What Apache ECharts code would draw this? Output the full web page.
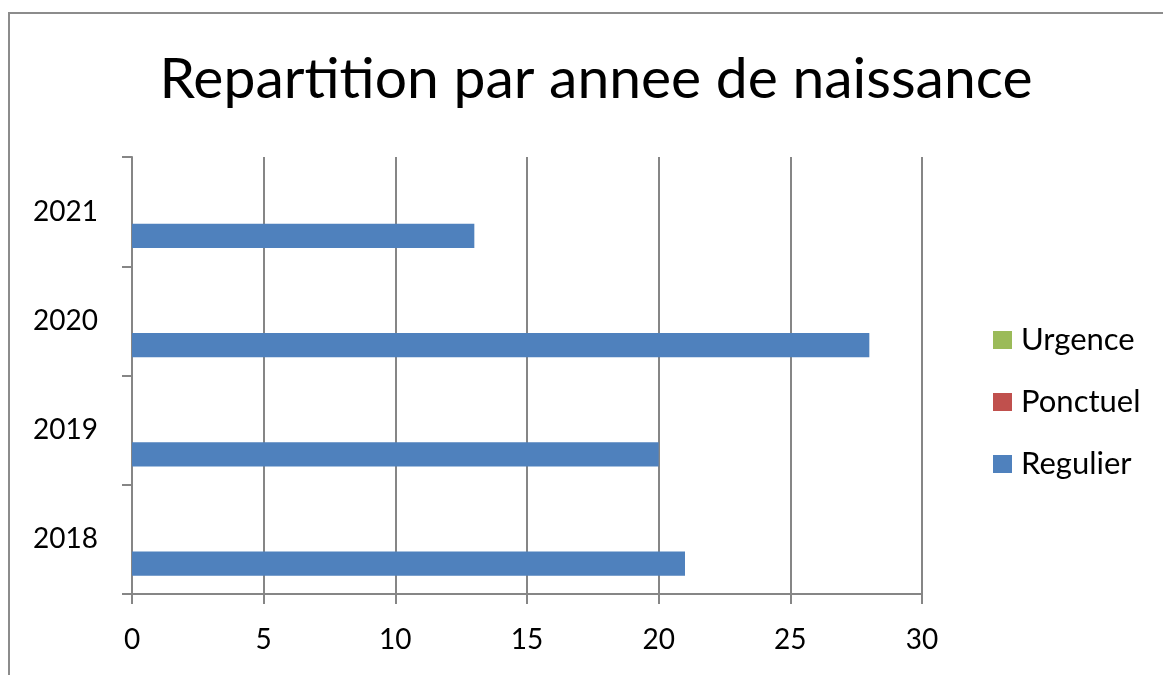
<!DOCTYPE html>
<html>
<head>
<meta charset="utf-8">
<script src="https://cdn.jsdelivr.net/npm/echarts@6/dist/echarts.min.js"></script>
<style>html,body{margin:0;padding:0;background:#fff;}#c{width:1163px;height:675px;}</style>
</head>
<body>
<div id="c"></div>
<script>
const titleText = 'Repartition par annee de naissance';
const categories = ['2018', '2019', '2020', '2021'];
const seriesNames = ['Urgence', 'Ponctuel', 'Regulier'];
const urgence = [0, 0, 0, 0];
const ponctuel = [0, 0, 0, 0];
const regulier = [21, 20, 28, 13];
const xTicks = [0, 5, 10, 15, 20, 25, 30];
const colors = ['#9BBB59', '#C0504D', '#4F81BD'];

const FONT = 'Lato';
const chart = echarts.init(document.getElementById('c'), null, {renderer: 'canvas'});
const dataBySeries = [urgence, ponctuel, regulier];
chart.setOption({
  animation: false,
  backgroundColor: '#fff',
  title: {
    text: titleText, top: 46, left: 591, textAlign: 'center',
    textStyle: {fontFamily: FONT, fontSize: 57, fontWeight: 'normal', color: '#000'}
  },
  graphic: [{
    type: 'rect', shape: {x: 9, y: 13, width: 1200, height: 700},
    style: {fill: 'none', stroke: '#8c8c8c', lineWidth: 2}, silent: true
  }],
  legend: {
    orient: 'vertical', left: 988, top: 319,
    itemWidth: 19, itemHeight: 18, itemGap: 30,
    icon: 'rect',
    data: seriesNames,
    textStyle: {fontFamily: FONT, fontSize: 31, color: '#000', lineHeight: 32, padding: [0,0,0,4]}
  },
  grid: {left: 132, right: 241, top: 157, bottom: 81, containLabel: false},
  xAxis: {
    type: 'value', min: xTicks[0], max: xTicks[xTicks.length-1], interval: 5,
    axisLine: {show: true, lineStyle: {color: '#868686', width: 2}},
    axisTick: {show: true, length: 10, lineStyle: {color: '#868686', width: 2}},
    splitLine: {show: true, lineStyle: {color: '#868686', width: 2}},
    axisLabel: {fontFamily: FONT, fontSize: 28, color: '#000', margin: 32}
  },
  yAxis: {
    type: 'category', data: categories,
    axisLine: {show: true, lineStyle: {color: '#868686', width: 2}},
    axisTick: {show: true, length: 10, alignWithLabel: false, lineStyle: {color: '#868686', width: 2}},
    axisLabel: {fontFamily: FONT, fontSize: 28, color: '#000', margin: 34, verticalAlign: 'middle'},
    splitLine: {show: false}
  },
  series: seriesNames.map((n, i) => ({
    name: n, type: 'bar', data: dataBySeries[i],
    barCategoryGap: '33.3%', barGap: '0%',
    itemStyle: {color: colors[i]}
  }))
});
</script>
</body>
</html>
